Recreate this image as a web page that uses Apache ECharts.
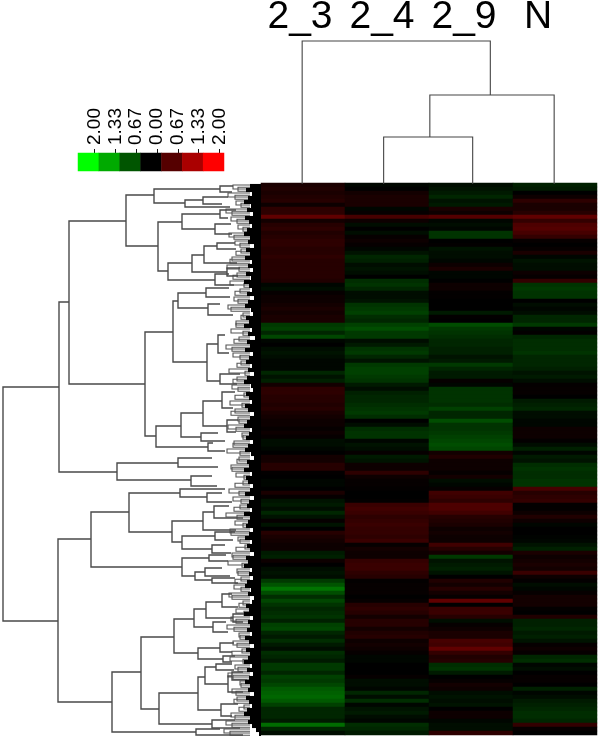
<!DOCTYPE html>
<html><head><meta charset="utf-8">
<style>html,body{margin:0;padding:0;background:#fff}#c{width:600px;height:739px}#c canvas{filter:blur(.55px)}</style>
<script src="https://cdn.jsdelivr.net/npm/echarts@6/dist/echarts.min.js"></script>
</head><body><div id="c"></div>
<script>
const samples = ['2_3','2_4','2_9','N'];
const legendTicks = ['2.00','1.33','0.67','0.00','0.67','1.33','2.00'];
const legendValues = [-2,-1.33,-0.67,0,0.67,1.33,2];
const col23 = [
.2,.25,.2,.25,.3,.1,.35,.35,.75,.15,
.3,.35,.25,.3,.35,.35,.3,.3,.35,.3,
.3,.3,.3,.3,.25,-.05,-.1,.05,.1,.1,
.15,.2,.15,.2,.2,-.45,-.5,-.3,-.55,-.05,
0,-.1,-.15,-.1,-.05,-.05,-.05,-.3,-.15,-.25,
.15,.35,.35,.3,.3,.25,.3,.2,.15,.1,
.1,.05,.1,.05,-.1,-.1,-.05,0,.15,.15,
.3,.3,.02,0,-.05,-.05,0,.2,.05,-.15,
-.2,-.1,-.3,-.15,.05,-.15,0,.3,.2,.15,
.1,.1,-.2,-.25,.1,0,-.1,-.15,-.1,-.45,
-.65,-.9,-.6,-.35,-.55,-.4,-.3,-.35,-.4,-.25,
-.5,-.55,-.3,-.2,-.35,-.2,-.1,-.35,-.3,-.2,
-.45,-.45,-.3,-.5,-.45,-.55,-.7,-.75,-.8,-.7,
-.5,-.3,-.3,-.3,-.2,-.85,-.3,-.1];
const col24 = [
-.05,0,.15,.2,.2,.2,-.05,.05,.55,.1,
-.1,0,-.1,.05,.1,.05,-.05,-.15,-.3,-.25,
-.1,-.15,-.1,0,-.35,-.4,-.3,-.1,-.1,-.15,
-.4,-.45,-.5,-.35,-.3,-.5,-.6,-.45,-.45,-.1,
-.2,-.4,-.45,-.3,-.15,-.45,-.5,-.5,-.45,-.4,
-.2,-.1,-.25,-.3,-.3,-.35,-.4,-.45,-.35,0,
-.1,-.35,-.4,-.4,-.05,-.15,-.1,.05,-.2,-.15,
.1,.1,.35,.1,.05,.05,.02,0,0,.02,
.45,.5,.45,.35,.4,.45,.4,.4,.35,.45,
.05,.15,.1,.1,.4,.45,.45,.35,.3,.02,
.05,.05,.05,0,.05,.3,.35,.3,.15,.3,
.3,.15,.25,.3,.1,.15,.1,.05,-.05,-.05,
0,0,0,.05,-.1,-.1,-.05,-.3,-.1,-.35,
-.05,-.15,-.2,-.1,-.05,-.35,-.3,-.2];
const col29 = [
-.1,-.15,-.2,-.3,-.15,-.2,.2,.1,.65,-.05,
-.1,-.05,-.4,-.4,0,.02,-.15,-.1,-.1,-.05,
.1,.2,-.05,-.05,0,.1,.1,.02,.02,0,
0,0,-.2,.02,0,-.6,-.45,-.4,-.35,-.3,
-.3,-.25,-.25,-.15,-.2,-.45,-.3,-.2,-.2,.05,
-.05,-.4,-.4,-.4,-.4,-.35,-.5,-.3,-.3,-.6,
-.4,-.4,-.45,-.5,-.55,-.6,-.55,.15,.25,.1,
.1,.1,.05,.15,-.1,-.05,.05,.5,.45,.35,
.6,.6,.5,.3,.25,.2,.1,.15,.1,.1,
.5,.3,.15,-.45,-.15,-.2,-.25,-.15,0,.25,
.15,.3,.15,.05,.75,0,.45,.45,.3,-.1,
.05,.1,.2,.2,.55,.5,.75,.4,.25,.3,
-.35,-.4,-.2,0,.05,.15,.1,-.1,-.15,-.1,
-.15,0,.1,.1,-.05,-.1,-.1,.35];
const colN = [
-.25,-.2,0,.1,.35,.2,.2,.3,.75,.4,
.6,.65,.55,.4,.05,0,.05,.2,-.05,-.15,
-.1,-.1,.1,.05,.4,-.4,-.45,-.4,-.4,0,
-.1,-.05,-.1,-.3,-.3,-.45,-.05,.02,-.3,-.35,
-.35,-.35,-.4,-.3,-.3,-.3,-.25,-.15,-.2,-.1,
.03,.05,.05,0,-.2,-.25,-.3,-.1,-.1,-.05,
-.05,.1,.1,.1,.02,-.1,-.25,-.05,-.2,-.15,
-.35,-.4,-.35,-.35,-.4,-.4,.55,.3,.35,.4,
.02,.02,.1,.25,.1,-.05,0,0,-.02,-.05,
-.15,-.25,.2,.1,.15,.2,.15,.45,.1,.02,
-.1,-.05,.05,.15,.15,.15,.02,0,.25,-.25,
-.25,-.3,-.2,-.25,-.15,.05,.1,.05,-.3,-.35,
-.05,-.1,0,.05,.05,0,-.25,-.05,-.1,-.2,
-.25,-.3,-.35,-.35,-.3,.4,.05,0];
/* sample tree: [height, leftPos, rightPos, leftChildHeight, rightChildHeight] */
const sampleTree = [
[143,.49,2.73,0,89],
[89,2.01,3.49,47,0],
[47,1.46,2.52,0,0]];
/* gene tree: [depth, topRow, bottomRow, topChildDepth, bottomChildDepth] */
const geneTree = [
[3,50.75,109.25,59,58],[59,29.5,72,69,117],[69,9.25,50,126,145],[126,2.75,15.5,154,158],
[154,1.25,4.75,220,185],[220,.5,2,233,232],[185,4,5.75,203,230],[203,3.25,5,228,222],
[158,9.5,21.75,182,168],[182,7.5,11.25,220,215],[220,6.5,8.5,236,228],[215,10,12.5,231,232],
[168,19.75,24,192,215],[192,17.75,22,204,227],[204,15.5,19.75,217,237],[217,14.75,16.25,235,236],
[215,22.5,25.25,229,234],[227,21,23,240,238],[145,37,63,173,156],[173,29.25,44.5,178,207],
[178,27.25,31,206,208],[206,26,28.25,229,230],[208,30,32.75,220,233],[207,40,49.25,218,220],
[218,37.75,42.25,225,229],[220,47.5,50,240,237],[156,60.5,65.75,181,208],[181,57.25,63.25,203,201],
[203,54.25,60.5,222,227],[222,52,56,235,233],[227,59,62,238,236],[201,62.25,64.25,218,225],
[208,64.75,66.75,213,225],[117,69.75,74,178,191],[178,68.5,70.75,212,218],[191,73,75.5,212,217],
[58,88.75,129.5,91,112],[91,82,95.75,129,182],[129,77.25,87,180,172],[180,76.25,78.25,225,207],
[207,77.25,79.5,222,232],[172,84.25,89.5,203,182],[203,82,86.5,214,236],[214,80.5,83.5,229,243],
[182,88,91.25,215,212],[215,87,89,235,233],[212,90.25,92.25,225,231],[182,93.5,98,209,195],
[209,92.75,94.25,226,228],[195,97,99,205,212],[205,96,98,222,230],[212,98.5,99.75,235,238],
[112,122,137,141,196],[141,113.25,131.25,174,159],[174,108.75,117.25,194,198],[194,106.25,110.75,206,213],
[206,104.5,108.5,222,233],[222,102.5,105.75,232,238],[233,107.5,109.5,245,243],[213,109.5,112,226,228],
[198,116,118.75,220,223],[220,114.75,117,234,232],[223,118,119.5,235,232],[159,127.25,135,198,212],
[198,123.25,131.5,205,221],[205,120.75,125,216,228],[216,120,121.5,232,234],[228,123,127,232,243],
[232,122,124,243,247],[221,130,133,238,232],[212,134,136,235,240],[196,136.25,137.75,220,243]];
/* small twig pairs down the tree, one depth per two rows */
const twigDepth = [
233,228,236,226,231,238,229,235,241,232,
227,237,230,240,234,228,243,236,231,239,
226,233,241,229,237,232,244,230,235,238,
228,242,234,227,239,231,236,243,229,233,
240,226,235,230,238,245,232,228,237,241,
234,229,243,236,231,227,239,233,242,230,
235,228,240,232,237,244,231,226,224];
/* second layer of twigs, offset by half a pair */
const twigDepth2 = [
238,235,241,232,237,243,234,240,236,230,
239,233,244,235,238,231,241,236,243,234,
232,240,237,245,233,238,235,242,231,239,
236,243,233,240,237,232,244,235,239,241,
234,237,243,231,240,236,233,242,238,235,
241,232,239,244,236,234,240,237,232,243,
238,233,241,236,234,239,235,232,230];
/* black leaf mass: depth where each row's leaves start */
const leafDepth = [
250,246,252,248,244,251,247,253,245,249,
252,247,244,250,248,254,246,250,245,252,
248,253,246,251,244,249,252,247,254,248,
245,251,253,246,249,244,252,248,255,247,
250,245,253,249,246,252,248,254,247,244,
251,253,246,249,252,245,248,254,250,247,
244,252,249,246,253,248,245,251,254,247,
249,244,252,246,248,253,250,245,254,249,
247,252,244,250,248,246,253,249,245,252,
247,250,254,246,248,244,252,249,253,247,
245,251,248,254,252,246,249,244,253,248,
250,247,252,245,249,254,246,250,248,244,
252,247,253,249,245,250,248,254,246,249,
252,247,244,250,248,252,256,259];

const heatData = [];
[col23,col24,col29,colN].forEach((col,c)=>col.forEach((v,r)=>heatData.push([c,r,v])));
const rowNames = col23.map((_,i)=>String(i));
const twigRows = twigDepth.map((d,k)=>[d,2*k+.25,2*k+1.25]);
const twigRows2 = twigDepth2.map((d,k)=>[d,2*k+.8,2*k+1.8]);
const leafRows = leafDepth.map((d,r)=>[d,r+.5]);

function bracketV(params,api){
  const x=api.value(0),a=api.value(1),b=api.value(2),xa=api.value(3),xb=api.value(4);
  return {type:'polyline',shape:{points:[api.coord([xa,a]),api.coord([x,a]),api.coord([x,b]),api.coord([xb,b])]},
    style:{fill:null,stroke:'#4a4a4a',lineWidth:1.4},silent:true};
}
function bracketH(params,api){
  const h=api.value(0),a=api.value(1),b=api.value(2),ha=api.value(3),hb=api.value(4);
  return {type:'polyline',shape:{points:[api.coord([a,ha]),api.coord([a,h]),api.coord([b,h]),api.coord([b,hb])]},
    style:{fill:null,stroke:'#444',lineWidth:1.1},silent:true};
}
function twig(params,api){
  const d=api.value(0),a=api.value(1),b=api.value(2);
  return {type:'polyline',shape:{points:[api.coord([250,a]),api.coord([d,a]),api.coord([d,b]),api.coord([250,b])]},
    style:{fill:null,stroke:'#555',lineWidth:1.1},silent:true};
}
function leaf(params,api){
  const d=api.value(0),r=api.value(1);
  const p=api.coord([d,r]),q=api.coord([261,r]);
  return {type:'line',shape:{x1:p[0],y1:p[1],x2:q[0],y2:q[1]},style:{stroke:'#000',lineWidth:4.1},silent:true};
}
const option={
  animation:false,backgroundColor:'#fff',
  textStyle:{fontFamily:'"Liberation Sans",Arial,sans-serif'},
  visualMap:{show:false,type:'continuous',min:-2,max:2,seriesIndex:[0,1],dimension:2,
    inRange:{color:['#00ff00','#000000','#ff0000']}},
  grid:[
    {left:261,top:183,width:336,height:552},
    {left:261,top:41,width:336,height:143},
    {left:0,top:184,width:261,height:550},
    {left:78,top:153,width:146,height:18},
    {left:84,top:153,width:146,height:1},
    {left:259,top:38,width:328,height:1}
  ],
  xAxis:[
    {gridIndex:0,type:'category',data:samples,show:false},
    {gridIndex:1,type:'value',min:0,max:4,show:false},
    {gridIndex:2,type:'value',min:0,max:261,show:false},
    {gridIndex:3,type:'category',data:legendValues.map(String),show:false},
    {gridIndex:4,type:'category',data:legendTicks,position:'top',
      axisLine:{show:false},axisTick:{show:true,alignWithLabel:true,length:5,lineStyle:{color:'#111',width:1}},
      axisLabel:{interval:0,rotate:90,fontSize:19,color:'#000',margin:8,fontFamily:'"Liberation Sans"'}},
    {gridIndex:5,type:'category',position:'top',
      data:['2_3','2_4','2_9',{value:'N',textStyle:{padding:[0,16,0,0]}}],
      axisLine:{show:false},axisTick:{show:false},
      axisLabel:{interval:0,fontSize:39,color:'#000',margin:2,fontFamily:'"Liberation Sans"'}}
  ],
  yAxis:[
    {gridIndex:0,type:'category',data:rowNames,inverse:true,show:false},
    {gridIndex:1,type:'value',min:0,max:143,show:false},
    {gridIndex:2,type:'value',min:0,max:137.5,inverse:true,show:false},
    {gridIndex:3,type:'category',data:['scale'],show:false},
    {gridIndex:4,type:'value',show:false},
    {gridIndex:5,type:'value',show:false}
  ],
  series:[
    {type:'heatmap',xAxisIndex:0,yAxisIndex:0,data:heatData,progressive:0,itemStyle:{borderWidth:0}},
    {type:'heatmap',xAxisIndex:3,yAxisIndex:3,data:legendValues.map((v,i)=>[i,0,v]),itemStyle:{borderWidth:0}},
    {type:'custom',xAxisIndex:1,yAxisIndex:1,renderItem:bracketH,data:sampleTree,clip:false,encode:{x:[1,2],y:[0,3,4]}},
    {type:'custom',xAxisIndex:2,yAxisIndex:2,renderItem:twig,data:twigRows,clip:false,encode:{x:0,y:[1,2]}},
    {type:'custom',xAxisIndex:2,yAxisIndex:2,renderItem:twig,data:twigRows2,clip:false,encode:{x:0,y:[1,2]}},
    {type:'custom',xAxisIndex:2,yAxisIndex:2,renderItem:bracketV,data:geneTree,clip:false,encode:{x:[0,3,4],y:[1,2]}},
    {type:'custom',xAxisIndex:2,yAxisIndex:2,renderItem:leaf,data:leafRows,clip:false,encode:{x:0,y:1}}
  ]
};
echarts.init(document.getElementById('c'),null,{renderer:'canvas'}).setOption(option);
</script></body></html>
